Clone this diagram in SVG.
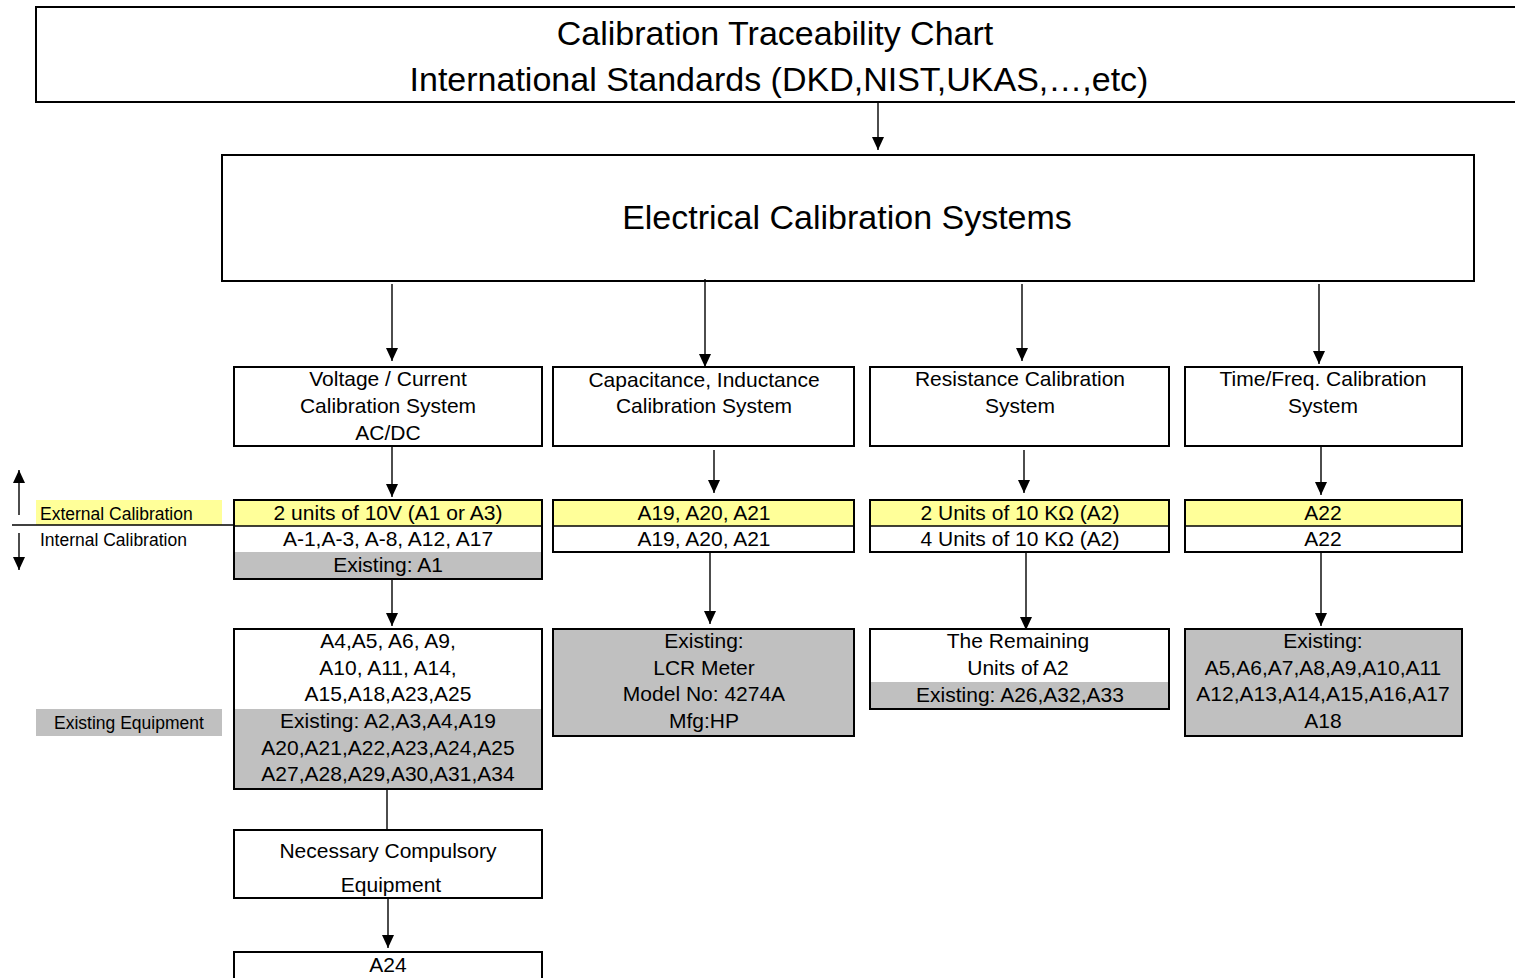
<svg xmlns="http://www.w3.org/2000/svg" width="1515" height="978" viewBox="0 0 1515 978">
<style>
text{font-family:"Liberation Sans",Arial,sans-serif;fill:#000;text-anchor:middle}
.t1{font-size:34px}
.t2{font-size:21px}
.t3{font-size:17.5px;text-anchor:start}
.box{fill:#fff;stroke:#000;stroke-width:2}
.yel{fill:#ffff99}
.gry{fill:#c0c0c0}
.wht{fill:#fff}
.frame{fill:none;stroke:#000;stroke-width:2}
.conn{stroke:#000;stroke-width:1.4;fill:none}
</style>
<defs>
<marker id="ah" markerUnits="userSpaceOnUse" markerWidth="13" markerHeight="12" refX="13" refY="6" orient="auto" viewBox="0 0 13 12">
<path d="M0,0 L13,6 L0,12 Z" fill="#000"/>
</marker>
</defs>
<rect width="1515" height="978" fill="#fff"/>

<g id="title">
<rect x="36" y="7" width="1500" height="95" class="box"/>
<text x="775" y="45" class="t1">Calibration Traceability Chart</text>
<text x="779" y="91" class="t1">International Standards (DKD,NIST,UKAS,…,etc)</text>
</g>

<g id="electrical">
<rect x="222" y="155" width="1252" height="126" class="box"/>
<text x="847" y="229" class="t1">Electrical Calibration Systems</text>
</g>

<g id="sys-voltage">
<rect x="234" y="367" width="308" height="79" class="box"/>
<text x="388" y="386" class="t2">Voltage / Current</text>
<text x="388" y="413" class="t2">Calibration System</text>
<text x="388" y="440" class="t2">AC/DC</text>
</g>
<g id="sys-cap">
<rect x="553" y="367" width="301" height="79" class="box"/>
<text x="704" y="387" class="t2">Capacitance, Inductance</text>
<text x="704" y="413" class="t2">Calibration System</text>
</g>
<g id="sys-res">
<rect x="870" y="367" width="299" height="79" class="box"/>
<text x="1020" y="386" class="t2">Resistance Calibration</text>
<text x="1020" y="413" class="t2">System</text>
</g>
<g id="sys-time">
<rect x="1185" y="367" width="277" height="79" class="box"/>
<text x="1323" y="386" class="t2">Time/Freq. Calibration</text>
<text x="1323" y="413" class="t2">System</text>
</g>

<g id="legend">
<rect x="36" y="500" width="186" height="25" class="yel"/>
<text x="40" y="520" class="t3">External Calibration</text>
<text x="40" y="546" class="t3">Internal Calibration</text>
<line x1="12" y1="525" x2="234" y2="525" class="conn"/>
<line x1="19" y1="515" x2="19" y2="470" class="conn" marker-end="url(#ah)"/>
<line x1="19" y1="533" x2="19" y2="570" class="conn" marker-end="url(#ah)"/>
<rect x="36" y="709" width="186" height="27" class="gry"/>
<text x="54" y="729" class="t3">Existing Equipment</text>
</g>

<g id="cal-voltage">
<rect x="234" y="500" width="308" height="26" class="yel"/>
<rect x="234" y="526" width="308" height="26" class="wht"/>
<rect x="234" y="552" width="308" height="27" class="gry"/>
<line x1="234" y1="526" x2="542" y2="526" stroke="#000" stroke-width="1.5"/>
<rect x="234" y="500" width="308" height="79" class="frame"/>
<text x="388" y="520" class="t2">2 units of 10V (A1 or A3)</text>
<text x="388" y="546" class="t2">A-1,A-3, A-8, A12, A17</text>
<text x="388" y="572" class="t2">Existing: A1</text>
</g>
<g id="cal-cap">
<rect x="553" y="500" width="301" height="26" class="yel"/>
<rect x="553" y="526" width="301" height="26" class="wht"/>
<line x1="553" y1="526" x2="854" y2="526" stroke="#000" stroke-width="1.5"/>
<rect x="553" y="500" width="301" height="52" class="frame"/>
<text x="704" y="520" class="t2">A19, A20, A21</text>
<text x="704" y="546" class="t2">A19, A20, A21</text>
</g>
<g id="cal-res">
<rect x="870" y="500" width="299" height="26" class="yel"/>
<rect x="870" y="526" width="299" height="26" class="wht"/>
<line x1="870" y1="526" x2="1169" y2="526" stroke="#000" stroke-width="1.5"/>
<rect x="870" y="500" width="299" height="52" class="frame"/>
<text x="1020" y="520" class="t2">2 Units of 10 KΩ (A2)</text>
<text x="1020" y="546" class="t2">4 Units of 10 KΩ (A2)</text>
</g>
<g id="cal-time">
<rect x="1185" y="500" width="277" height="26" class="yel"/>
<rect x="1185" y="526" width="277" height="26" class="wht"/>
<line x1="1185" y1="526" x2="1462" y2="526" stroke="#000" stroke-width="1.5"/>
<rect x="1185" y="500" width="277" height="52" class="frame"/>
<text x="1323" y="520" class="t2">A22</text>
<text x="1323" y="546" class="t2">A22</text>
</g>

<g id="eq-voltage">
<rect x="234" y="629" width="308" height="80" class="wht"/>
<rect x="234" y="709" width="308" height="80" class="gry"/>
<rect x="234" y="629" width="308" height="160" class="frame"/>
<text x="388" y="648" class="t2">A4,A5, A6, A9,</text>
<text x="388" y="675" class="t2">A10, A11, A14,</text>
<text x="388" y="701" class="t2">A15,A18,A23,A25</text>
<text x="388" y="728" class="t2">Existing: A2,A3,A4,A19</text>
<text x="388" y="755" class="t2">A20,A21,A22,A23,A24,A25</text>
<text x="388" y="781" class="t2">A27,A28,A29,A30,A31,A34</text>
</g>
<g id="eq-cap">
<rect x="553" y="629" width="301" height="107" class="gry"/>
<rect x="553" y="629" width="301" height="107" class="frame"/>
<text x="704" y="648" class="t2">Existing:</text>
<text x="704" y="675" class="t2">LCR Meter</text>
<text x="704" y="701" class="t2">Model No: 4274A</text>
<text x="704" y="728" class="t2">Mfg:HP</text>
</g>
<g id="eq-res">
<rect x="870" y="629" width="299" height="53" class="wht"/>
<rect x="870" y="682" width="299" height="27" class="gry"/>
<rect x="870" y="629" width="299" height="80" class="frame"/>
<text x="1018" y="648" class="t2">The Remaining</text>
<text x="1018" y="675" class="t2">Units of A2</text>
<text x="1020" y="702" class="t2">Existing: A26,A32,A33</text>
</g>
<g id="eq-time">
<rect x="1185" y="629" width="277" height="107" class="gry"/>
<rect x="1185" y="629" width="277" height="107" class="frame"/>
<text x="1323" y="648" class="t2">Existing:</text>
<text x="1323" y="675" class="t2">A5,A6,A7,A8,A9,A10,A11</text>
<text x="1323" y="701" class="t2">A12,A13,A14,A15,A16,A17</text>
<text x="1323" y="728" class="t2">A18</text>
</g>

<g id="necessary">
<rect x="234" y="830" width="308" height="68" class="box"/>
<text x="388" y="858" class="t2">Necessary Compulsory</text>
<text x="391" y="892" class="t2">Equipment</text>
</g>
<g id="a24">
<rect x="234" y="952" width="308" height="30" class="box"/>
<text x="388" y="972" class="t2">A24</text>
</g>

<g id="connectors">
<line x1="878" y1="102" x2="878" y2="150" class="conn" marker-end="url(#ah)"/>
<line x1="392" y1="284" x2="392" y2="361" class="conn" marker-end="url(#ah)"/>
<line x1="705" y1="279" x2="705" y2="367" class="conn" marker-end="url(#ah)"/>
<line x1="1022" y1="284" x2="1022" y2="361" class="conn" marker-end="url(#ah)"/>
<line x1="1319" y1="284" x2="1319" y2="364" class="conn" marker-end="url(#ah)"/>
<line x1="392" y1="447" x2="392" y2="497" class="conn" marker-end="url(#ah)"/>
<line x1="714" y1="450" x2="714" y2="493" class="conn" marker-end="url(#ah)"/>
<line x1="1024" y1="450" x2="1024" y2="493" class="conn" marker-end="url(#ah)"/>
<line x1="1321" y1="447" x2="1321" y2="495" class="conn" marker-end="url(#ah)"/>
<line x1="392" y1="580" x2="392" y2="626" class="conn" marker-end="url(#ah)"/>
<line x1="710" y1="553" x2="710" y2="624" class="conn" marker-end="url(#ah)"/>
<line x1="1026" y1="553" x2="1026" y2="630" class="conn" marker-end="url(#ah)"/>
<line x1="1321" y1="553" x2="1321" y2="626" class="conn" marker-end="url(#ah)"/>
<line x1="387" y1="790" x2="387" y2="830" class="conn"/>
<line x1="388" y1="899" x2="388" y2="948" class="conn" marker-end="url(#ah)"/>
</g>
</svg>
